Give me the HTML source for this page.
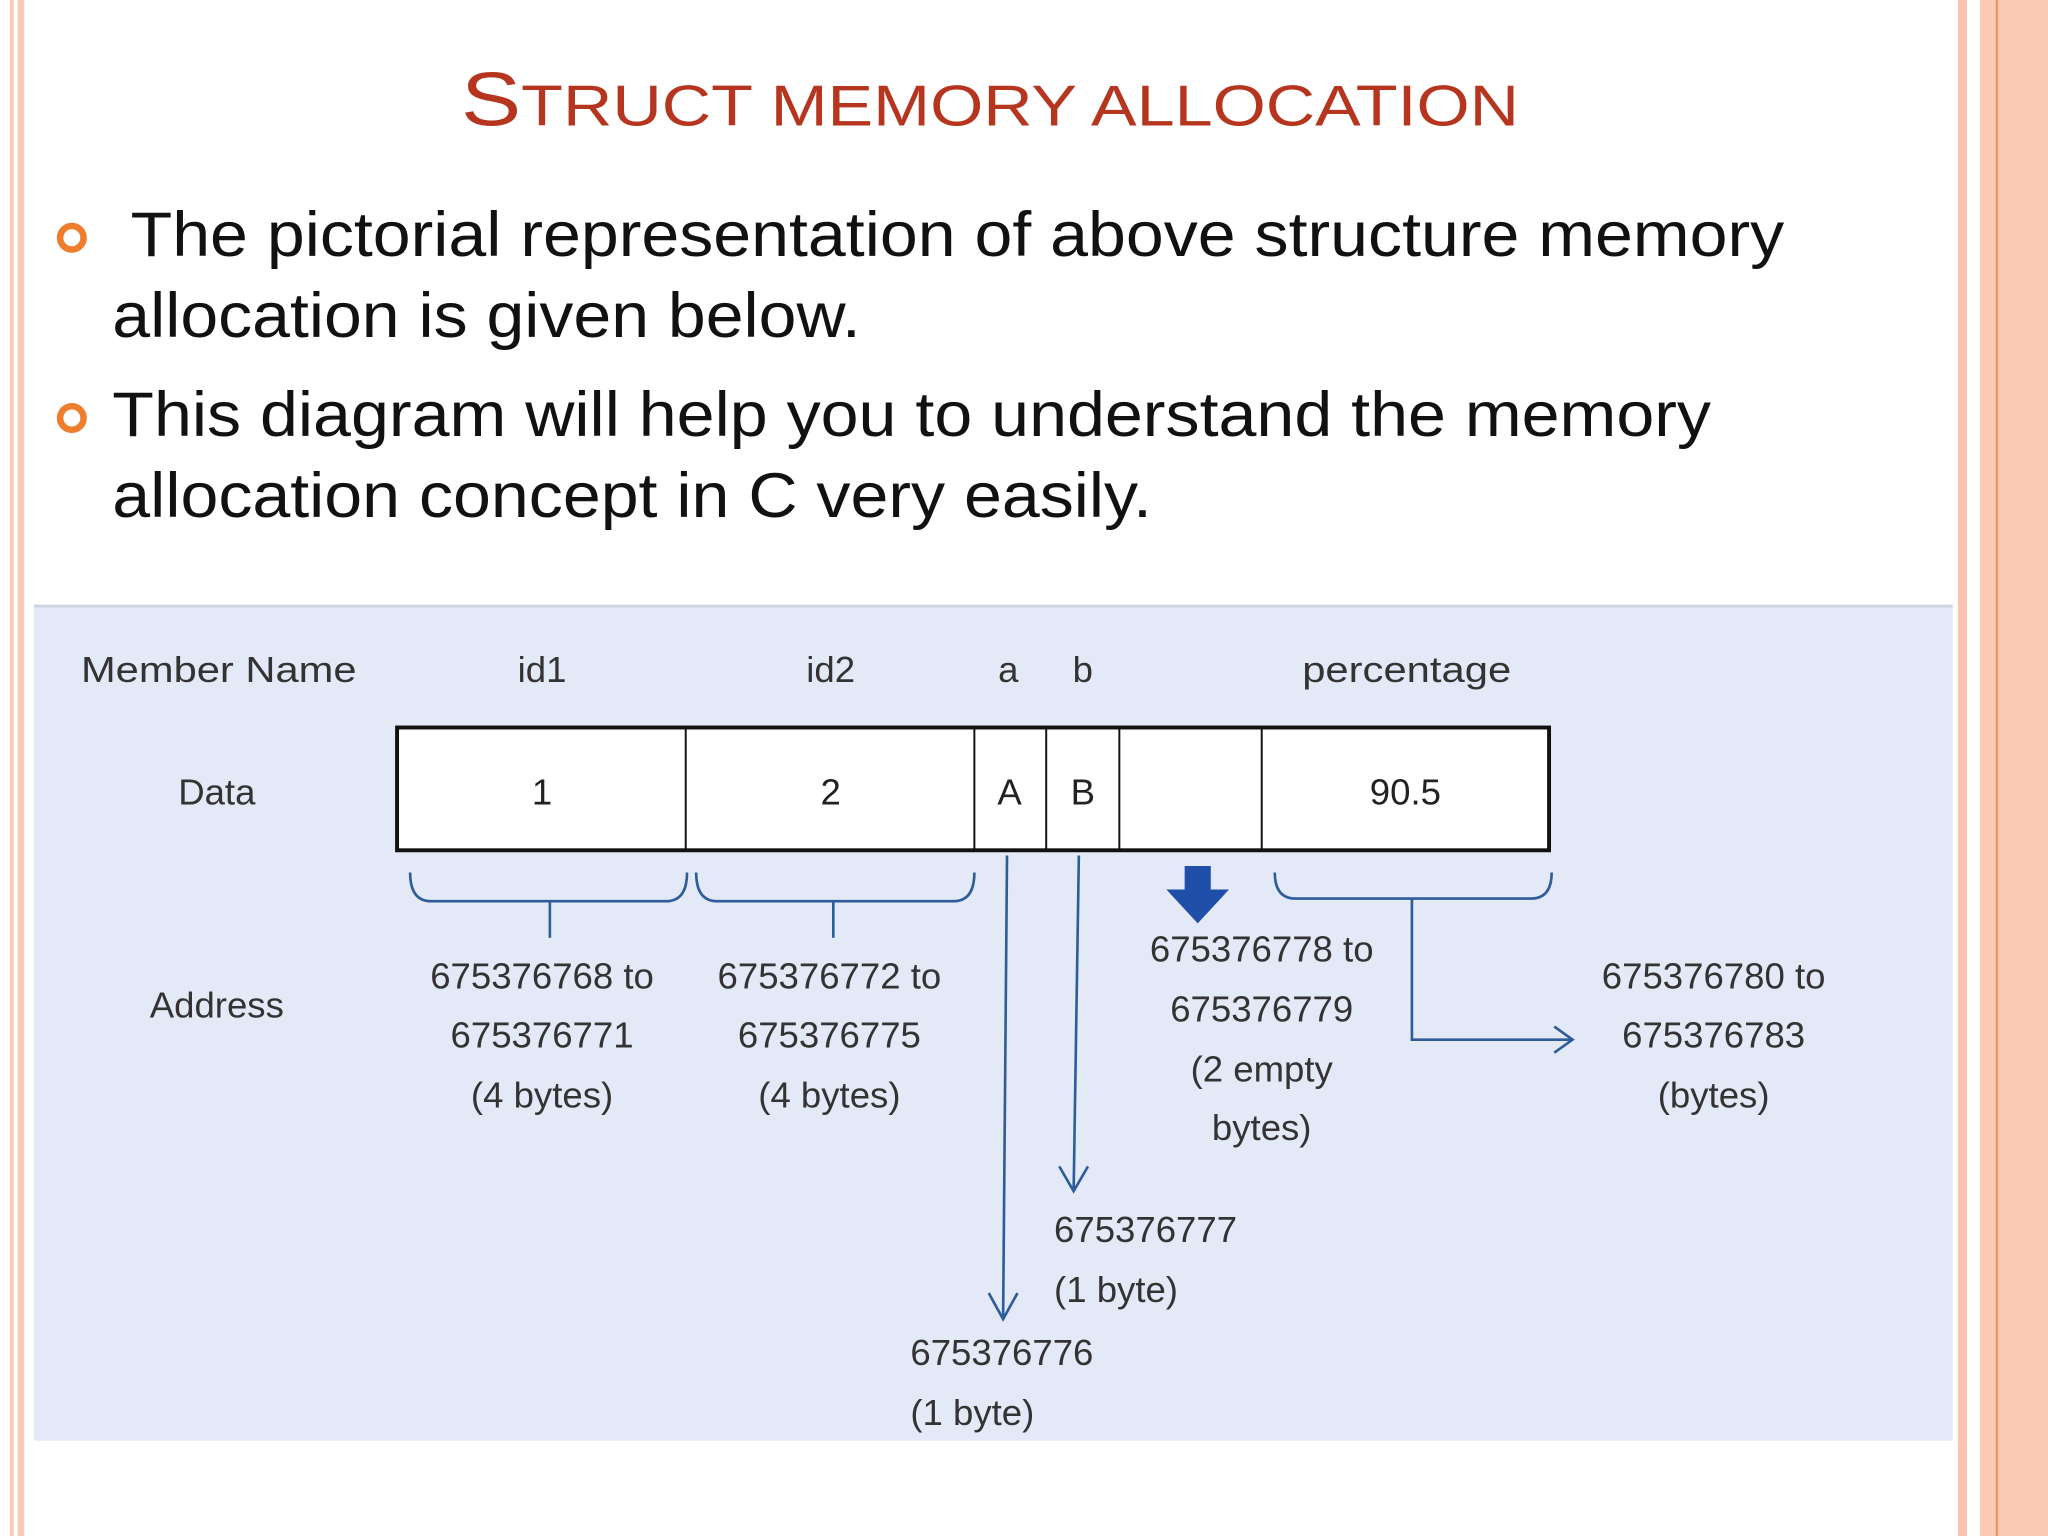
<!DOCTYPE html>
<html><head><style>html,body{margin:0;padding:0;background:#fff}svg{display:block}</style></head>
<body>
<svg width="2048" height="1536" viewBox="0 0 1568 1176" preserveAspectRatio="none" xmlns="http://www.w3.org/2000/svg" font-family="Liberation Sans, sans-serif">
<rect width="1568" height="1176" fill="#fff"/>
<rect x="7.5" y="0" width="3" height="1176" fill="#fcc8b6"/>
<rect x="13.5" y="0" width="5" height="1176" fill="#fcc8b6"/>
<rect x="1499" y="0" width="7" height="1176" fill="#fcc3b0"/>
<rect x="1516" y="0" width="52" height="1176" fill="#fccab2"/>
<rect x="1528" y="0" width="1.5" height="1176" fill="#ef8a50"/>
<text x="758" y="96" text-anchor="middle" fill="#b5351f" font-size="44" textLength="810" lengthAdjust="spacingAndGlyphs"><tspan font-size="58">S</tspan>TRUCT MEMORY ALLOCATION</text>
<circle cx="55" cy="182" r="9" fill="none" stroke="#ee7d2d" stroke-width="5"/>
<circle cx="55" cy="320" r="9" fill="none" stroke="#ee7d2d" stroke-width="5"/>
<g font-size="48" fill="#111">
<text x="100" y="196" textLength="1266" lengthAdjust="spacingAndGlyphs">The pictorial representation of above structure memory</text>
<text x="86" y="258" textLength="573" lengthAdjust="spacingAndGlyphs">allocation is given below.</text>
<text x="86" y="334" textLength="1224" lengthAdjust="spacingAndGlyphs">This diagram will help you to understand the memory</text>
<text x="86" y="396" textLength="796" lengthAdjust="spacingAndGlyphs">allocation concept in C very easily.</text>
</g>
<rect x="26" y="463" width="1469" height="640" fill="#e3e9f6"/>
<line x1="26" y1="464" x2="1495" y2="464" stroke="#ccd3e4" stroke-width="2"/>
<g font-size="28" fill="#333">
<text x="62" y="522" textLength="211" lengthAdjust="spacingAndGlyphs">Member Name</text>
<text x="415" y="522" text-anchor="middle">id1</text>
<text x="636" y="522" text-anchor="middle">id2</text>
<text x="772" y="522" text-anchor="middle">a</text>
<text x="829" y="522" text-anchor="middle">b</text>
<text x="1077" y="522" text-anchor="middle" textLength="160" lengthAdjust="spacingAndGlyphs">percentage</text>
<text x="166" y="616" text-anchor="middle">Data</text>
<text x="166" y="779" text-anchor="middle">Address</text>
</g>
<rect x="304" y="557" width="882" height="94" fill="#fff" stroke="#111" stroke-width="3"/>
<g stroke="#111" stroke-width="1.5">
<line x1="525" y1="557" x2="525" y2="651"/><line x1="746" y1="557" x2="746" y2="651"/>
<line x1="801" y1="557" x2="801" y2="651"/><line x1="857" y1="557" x2="857" y2="651"/>
<line x1="966" y1="557" x2="966" y2="651"/>
</g>
<g font-size="28" fill="#222" text-anchor="middle">
<text x="415" y="616">1</text><text x="636" y="616">2</text><text x="773" y="616">A</text>
<text x="829" y="616">B</text><text x="1076" y="616">90.5</text>
</g>
<g fill="none" stroke="#2e5b9a" stroke-width="2">
<path d="M314 668 Q314 690 330 690 L510 690 Q526 690 526 668"/>
<line x1="421" y1="690" x2="421" y2="718"/>
<path d="M533 668 Q533 690 549 690 L730 690 Q746 690 746 668"/>
<line x1="638" y1="690" x2="638" y2="718"/>
<path d="M976 668 Q976 688 992 688 L1172 688 Q1188 688 1188 668"/>
<path d="M1081 688 L1081 796 L1203 796"/>
<path d="M1190 786 L1204 796 L1190 806"/>
<line x1="771" y1="655" x2="768" y2="1010"/>
<path d="M757 990 L768 1010 L779 990"/>
<line x1="826" y1="655" x2="822" y2="912"/>
<path d="M811 893 L822 912 L833 893"/>
</g>
<path d="M907 663 L927 663 L927 681 L941 681 L917 707 L893 681 L907 681 Z" fill="#1f4fa8"/>
<g font-size="28" fill="#333" text-anchor="middle">
<text x="415" y="757">675376768 to</text><text x="415" y="802">675376771</text><text x="415" y="848">(4 bytes)</text>
<text x="635" y="757">675376772 to</text><text x="635" y="802">675376775</text><text x="635" y="848">(4 bytes)</text>
<text x="966" y="736">675376778 to</text><text x="966" y="782">675376779</text><text x="966" y="828">(2 empty</text><text x="966" y="873">bytes)</text>
<text x="1312" y="757">675376780 to</text><text x="1312" y="802">675376783</text><text x="1312" y="848">(bytes)</text>
</g>
<g font-size="28" fill="#333">
<text x="807" y="951">675376777</text><text x="807" y="997">(1 byte)</text>
<text x="697" y="1045">675376776</text><text x="697" y="1091">(1 byte)</text>
</g>
</svg>
</body></html>
